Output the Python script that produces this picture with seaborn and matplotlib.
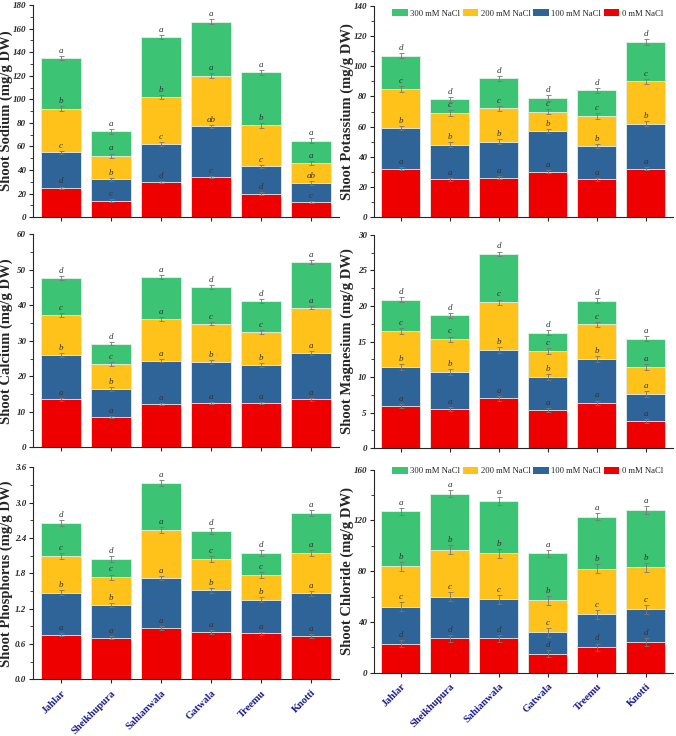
import numpy as np
import pandas as pd
import seaborn as sns
import matplotlib.pyplot as plt
from matplotlib.patches import Patch
from matplotlib.ticker import MultipleLocator, AutoMinorLocator, FormatStrFormatter

sns.set_style('ticks')
plt.rcParams['font.family'] = ['Liberation Serif', 'DejaVu Serif']

sites = ['Jahlar', 'Sheikhupura', 'Sahianwala', 'Gatwala', 'Treemu', 'Knotti']
levels = ['0 mM NaCl', '100 mM NaCl', '200 mM NaCl', '300 mM NaCl']
colors = ['#ee0000', '#2f6499', '#ffc21a', '#3cc373']

# segment heights (per salt level)
sodium = [[25, 14, 30, 34, 20, 13],
          [30, 18, 32, 43, 23, 16],
          [37, 20, 40, 43, 35, 17],
          [43, 21, 51, 46, 45, 19]]
sodium_let = [list('dcdcdc'), ['c', 'b', 'c', 'ab', 'c', 'ab'], list('bababa'), list('aaaaaa')]
sodium_err = [1.0, 1.5, 2.0, 2.0]

potassium = [[32, 25, 26, 30, 25, 32],
             [27, 23, 24, 27, 22, 30],
             [26, 21, 22, 13, 20, 28],
             [22, 9, 20, 9, 17, 26]]
potassium_let = [list('aaaaaa'), list('bbbbbb'), list('cccccc'), list('dddddd')]
potassium_err = [1.0, 1.5, 1.8, 1.8]

calcium = [[13.5, 8.6, 12.2, 12.4, 12.5, 13.5],
           [12.5, 7.9, 12.2, 11.6, 10.7, 13.0],
           [11.2, 7.0, 11.7, 10.8, 9.3, 12.8],
           [10.5, 5.7, 11.8, 10.3, 8.7, 12.8]]
calcium_let = [list('aaaaaa'), list('bbabba'), list('ccacca'), list('ddadda')]
calcium_err = [0.3, 0.5, 0.5, 0.5]

magnesium = [[5.9, 5.5, 7.0, 5.4, 6.4, 3.8],
             [5.5, 5.2, 6.8, 4.6, 6.1, 3.8],
             [5.1, 4.6, 6.7, 3.7, 4.9, 3.8],
             [4.4, 3.4, 6.8, 2.5, 3.3, 4.0]]
magnesium_let = [list('aaaaaa'), list('bbbbba'), list('ccccca'), list('ddddda')]
magnesium_err = [0.3, 0.4, 0.4, 0.35]

phosphorus = [[0.76, 0.71, 0.87, 0.80, 0.78, 0.74],
              [0.71, 0.55, 0.85, 0.71, 0.57, 0.72],
              [0.63, 0.47, 0.81, 0.53, 0.42, 0.69],
              [0.56, 0.32, 0.80, 0.48, 0.37, 0.68]]
phosphorus_let = [list('aaaaaa'), list('bbabba'), list('ccacca'), list('ddadda')]
phosphorus_err = [0.03, 0.04, 0.05, 0.05]

chloride = [[23, 27, 27, 15, 20, 24],
            [29, 33, 31, 17, 26, 26],
            [32, 37, 36, 25, 36, 33],
            [43, 44, 41, 37, 41, 45]]
chloride_let = [list('dddddd'), list('cccccc'), list('bbbbbb'), list('aaaaaa')]
chloride_err = [3.0, 3.5, 3.5, 3.0]


def stacked(ax, seg, letters, err, ylabel, ymax, step, fmt='%d', show_x=False, legend=None):
    seg = np.array(seg, dtype=float)
    cum = np.cumsum(seg, axis=0)
    df = pd.DataFrame({'site': np.tile(sites, 4),
                       'level': np.repeat(levels, 6),
                       'cum': cum.ravel()})
    # draw tallest stack first, shorter ones on top
    for k in range(3, -1, -1):
        sns.barplot(data=df[df.level == levels[k]], x='site', y='cum', order=sites,
                    color=colors[k], saturation=1, width=0.8, errorbar=None,
                    edgecolor='#e6f0ea', linewidth=0.6, ax=ax)
    for k in range(4):
        x = np.arange(6)
        ax.errorbar(x, cum[k], yerr=err[k], fmt='none', ecolor='#777777',
                    elinewidth=0.6, capsize=1.8, capthick=0.6, zorder=5)
        for i in range(6):
            ax.text(i, cum[k][i] + err[k] + ymax * 0.005, letters[k][i],
                    ha='center', va='bottom', fontsize=6.5, style='italic',
                    color='#333333', zorder=6)
    ax.set_xlim(-0.55, 5.55)
    ax.yaxis.set_major_locator(MultipleLocator(step))
    ax.yaxis.set_minor_locator(AutoMinorLocator(2))
    ax.yaxis.set_major_formatter(FormatStrFormatter(fmt))
    ax.set_ylim(0, ymax)
    ax.tick_params(axis='y', labelsize=6.5, direction='out', length=3, width=0.8, pad=2)
    ax.tick_params(axis='y', which='minor', length=2, width=0.6)
    ax.tick_params(axis='x', direction='out', length=3, width=0.8)
    for lab in ax.get_yticklabels():
        lab.set_fontweight('bold')
        lab.set_fontstyle('italic')
    ax.set_ylabel(ylabel, fontsize=10.5, fontweight='bold')
    ax.yaxis.set_label_coords(-0.066, 0.5)
    ax.set_xlabel('')
    if show_x:
        ax.set_xticks(range(6))
        ax.set_xticklabels(sites, rotation=45, ha='right', rotation_mode='anchor',
                           fontsize=7.5, fontweight='bold', color='#1a1a8c')
    else:
        ax.set_xticklabels([])
    sns.despine(ax=ax)
    ax.spines['left'].set_linewidth(0.8)
    ax.spines['bottom'].set_linewidth(0.8)
    if legend is not None:
        handles = [Patch(facecolor=colors[k], edgecolor='none') for k in range(3, -1, -1)]
        ax.legend(handles, levels[::-1], loc='upper right', ncol=4, frameon=False,
                  fontsize=6.2, handlelength=1.8, handleheight=0.9, columnspacing=0.3,
                  handletextpad=0.3, borderaxespad=0.0, bbox_to_anchor=legend)


fig = plt.figure(figsize=(6.76, 7.36), dpi=100)
ax1 = fig.add_axes([0.049, 0.705, 0.452, 0.288])
ax2 = fig.add_axes([0.553, 0.705, 0.442, 0.287])
ax3 = fig.add_axes([0.049, 0.392, 0.452, 0.290])
ax4 = fig.add_axes([0.553, 0.391, 0.442, 0.290])
ax5 = fig.add_axes([0.049, 0.077, 0.452, 0.288])
ax6 = fig.add_axes([0.553, 0.086, 0.442, 0.276])

stacked(ax1, sodium, sodium_let, sodium_err, 'Shoot Sodium (mg/g DW)', 180, 20)
stacked(ax2, potassium, potassium_let, potassium_err, 'Shoot Potassium (mg/g DW)', 140, 20,
        legend=(0.98, 1.0))
stacked(ax3, calcium, calcium_let, calcium_err, 'Shoot Calcium (mg/g DW)', 60, 10)
stacked(ax4, magnesium, magnesium_let, magnesium_err, 'Shoot Magnesium (mg/g DW)', 30, 5)
stacked(ax5, phosphorus, phosphorus_let, phosphorus_err, 'Shoot Phosphorus (mg/g DW)', 3.6, 0.6,
        fmt='%.1f', show_x=True)
stacked(ax6, chloride, chloride_let, chloride_err, 'Shoot Chloride (mg/g DW)', 160, 40,
        show_x=True, legend=(0.98, 1.03))

fig.savefig('out.png', dpi=100)
